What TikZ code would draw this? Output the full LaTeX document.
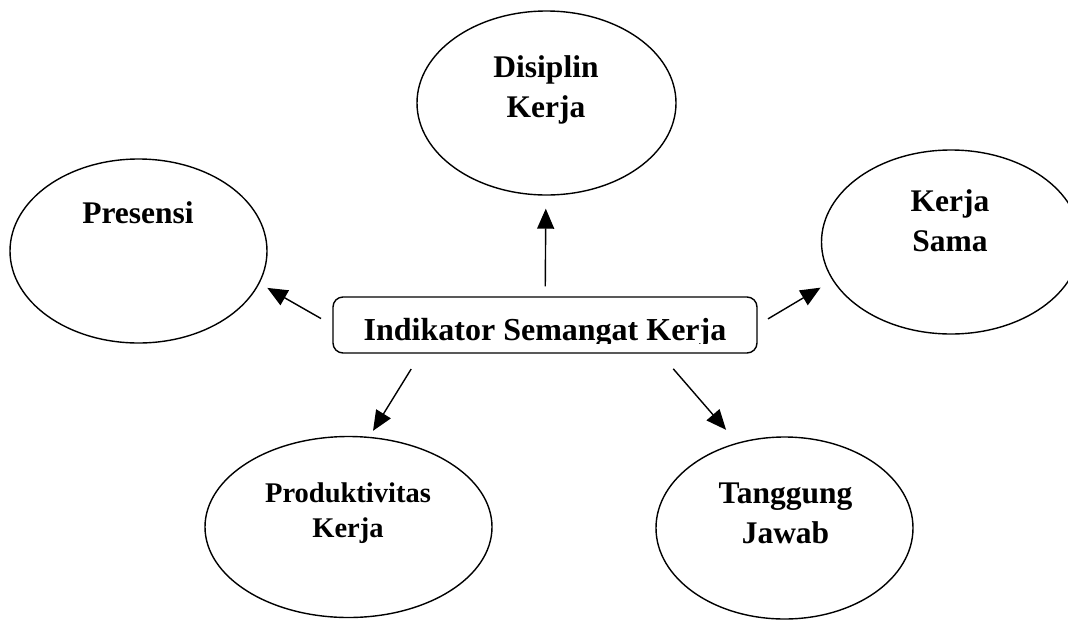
\documentclass[tikz,border=0pt]{standalone}
\usepackage{fontspec}
\setmainfont{Liberation Serif}
\usepackage{trimclip}
\usetikzlibrary{shapes.geometric,arrows.meta}

\begin{document}
\begin{tikzpicture}[x=1pt,y=-1pt,line width=1.4pt,line join=round,
	>={Triangle[length=20pt,width=17pt]},
	font=\bfseries\fontsize{31.5}{40}\selectfont,
	oval/.style={draw,ellipse,inner sep=0pt},
	lbl/.style={align=center,inner sep=0pt},
	mainbox/.style={draw,rounded corners=10pt,inner sep=0pt,minimum width=424pt,minimum height=56pt,
		text height=30pt,text depth=0pt,font=\bfseries\fontsize{32}{38}\selectfont}]
	\useasboundingbox (0,0) rectangle (1068,619);
	\clip (0,0) rectangle (1068,619);
	
	% Central box
	\node[mainbox] (ind) at (545,325) {\clipbox{0pt 3.5pt 0pt 0pt}{Indikator Semangat Kerja}};
	
	% Ellipses
	\node[oval,minimum width=259pt,minimum height=184pt] (dis) at (546.5,103) {};
	\node[oval,minimum width=257pt,minimum height=184pt] (pres) at (138.5,251) {};
	\node[oval,minimum width=259pt,minimum height=184pt] (sama) at (951,242) {};
	\node[oval,minimum width=287pt,minimum height=181pt] (prod) at (348.5,527) {};
	\node[oval,minimum width=257pt,minimum height=182pt] (tang) at (784.5,528) {};
	
	% Labels
	\node[lbl] (dis-t) at (546,89.5) {Disiplin\\Kerja};
	\node[lbl,anchor=base] (pres-t) at (138,223) {Presensi};
	\node[lbl] (sama-t) at (950,221) {Kerja\\Sama};
	\node[lbl,font=\bfseries\fontsize{28.5}{35}\selectfont] (prod-t) at (348,512.7) {Produktivitas\\Kerja};
	\node[lbl] (tang-t) at (785.5,513.6) {Tanggung\\Jawab};
	
	% Arrows
	\draw[->,shorten <=10pt,shorten >=13pt] (ind) -- (dis);
	\draw[->,shorten <=13pt,shorten >=9pt] (ind.west) -- (pres.-15);
	\draw[->,shorten <=12pt,shorten >=14pt] (ind.east) -- (sama.198);
	\draw[->,shorten <=18pt,shorten >=7pt] (ind.193.5) -- (prod.77);
	\draw[->,shorten <=20pt,shorten >=17pt] (ind.346.4) -- (tang.119);
\end{tikzpicture}
\end{document}
